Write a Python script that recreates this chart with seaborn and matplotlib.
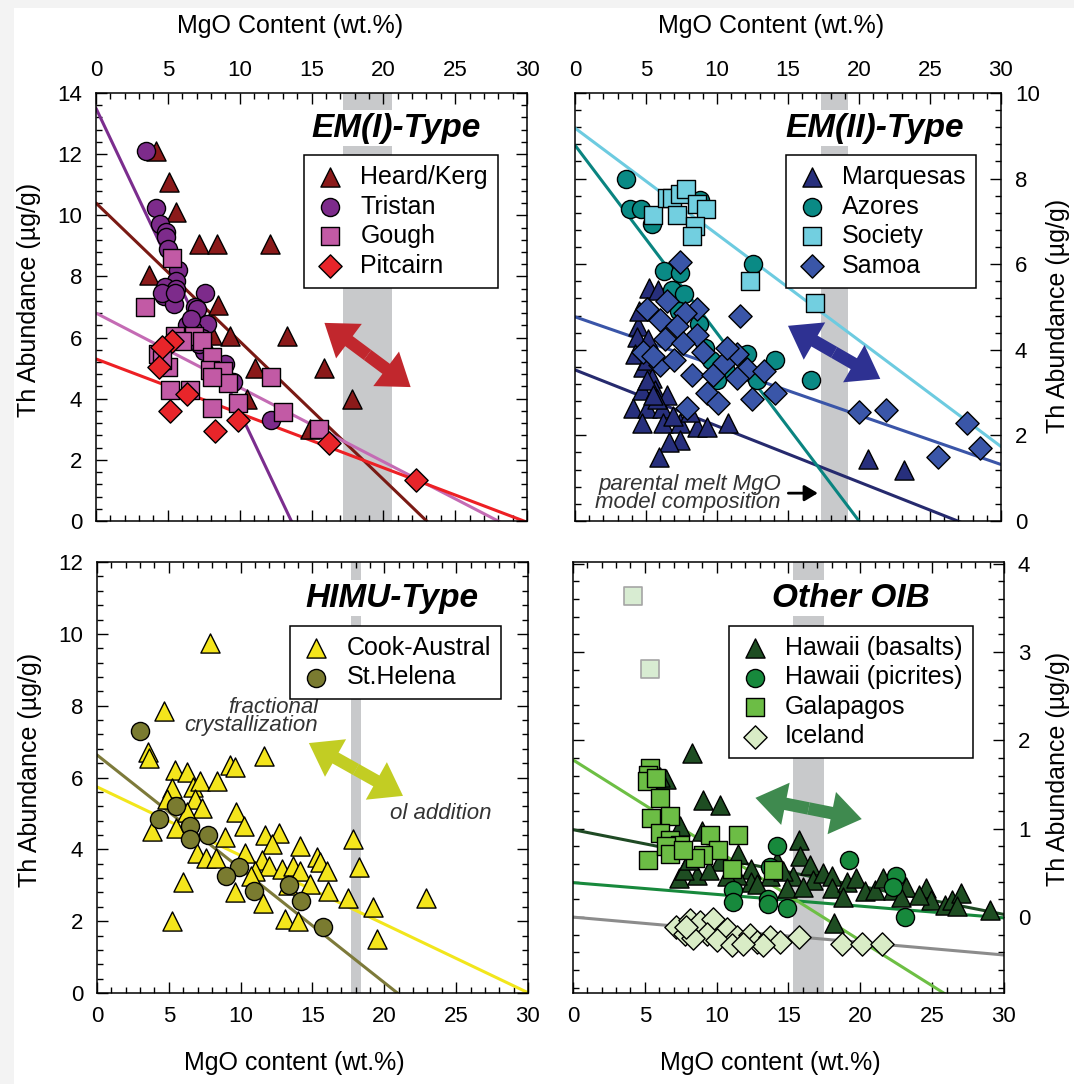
import matplotlib
matplotlib.use("Agg")
import matplotlib.pyplot as plt
from matplotlib.patches import FancyArrowPatch, Rectangle
from matplotlib.ticker import MultipleLocator
import numpy as np
import seaborn as sns

# ---------------- EM(I)-type ----------------
heard_mgo = [4.2, 5.1, 5.6, 7.2, 8.4, 12.1, 3.7, 8.5, 9.3, 13.3, 8.1, 11.1, 15.9, 17.8, 10.5, 14.9]
heard_th = [12.1, 11.1, 10.1, 9.05, 9.05, 9.05, 8.05, 7.05, 6.05, 6.05, 6.1, 5.0, 5.0, 4.0, 4.0, 3.0]
tristan_mgo = [3.5, 4.2, 4.45, 4.9, 4.9, 5.0, 5.7, 5.6, 4.8, 5.6, 7.6, 4.7, 5.4, 6.9, 4.6, 5.5,
               7.0, 6.3, 7.7, 7.5, 9.0, 9.55, 12.2, 7.2, 6.75, 6.6, 7.4]
tristan_th = [12.1, 10.25, 9.7, 9.45, 9.3, 8.9, 8.2, 7.85, 7.65, 7.6, 7.45, 7.35, 7.1, 7.0, 7.45, 7.45,
              6.95, 6.4, 6.45, 5.55, 5.15, 4.55, 3.3, 5.8, 6.25, 6.6, 6.0]
gough_mgo = [5.3, 3.4, 5.5, 6.8, 7.35, 4.3, 5.0, 8.05, 7.9, 8.85, 9.2, 8.1, 5.15, 6.55, 12.2, 8.05,
             9.9, 13.0, 15.5, 4.6, 6.0]
gough_th = [8.6, 7.0, 6.05, 6.05, 5.9, 5.45, 5.05, 5.35, 4.95, 4.9, 4.5, 4.7, 4.3, 4.3, 4.7, 3.7,
            3.85, 3.55, 3.0, 5.25, 5.9]
pitcairn_mgo = [5.3, 4.6, 4.35, 6.3, 5.15, 8.3, 9.9, 16.2, 22.3]
pitcairn_th = [5.9, 5.7, 5.05, 4.15, 3.6, 2.95, 3.3, 2.55, 1.35]
emi_fit_intercept = [10.4, 13.5, 6.8, 5.3]
emi_fit_slope = [-0.452, -0.993, -0.243, -0.178]

# ---------------- EM(II)-type ----------------
marq_mgo = [5.2, 5.85, 4.45, 4.35, 4.25, 4.8, 5.4, 4.7, 5.65, 4.1, 5.05, 6.1, 4.7, 6.2, 7.4, 8.6,
            9.3, 10.8, 7.4, 6.6, 5.9, 6.5, 5.75, 5.05, 6.9, 8.1, 5.15, 5.1, 4.5, 5.5, 20.6, 23.2]
marq_th = [5.45, 5.4, 4.55, 4.3, 3.9, 3.6, 3.35, 3.05, 3.05, 2.65, 2.65, 2.65, 2.3, 2.3, 2.3, 2.2,
           2.2, 2.3, 1.9, 1.85, 1.5, 2.95, 2.85, 3.3, 2.45, 2.55, 4.25, 3.75, 4.9, 2.95, 1.45, 1.2]
azores_mgo = [3.6, 3.85, 4.65, 5.4, 8.8, 12.55, 6.3, 7.4, 6.8, 7.65, 8.7, 9.15, 9.6, 12.1, 14.1,
              10.6, 12.8, 10.0, 16.6, 7.3]
azores_th = [8.0, 7.3, 7.3, 6.95, 7.5, 6.0, 5.85, 5.8, 5.4, 5.3, 4.6, 4.05, 3.75, 3.9, 3.75,
             3.5, 3.3, 3.3, 3.3, 4.9]
society_mgo = [5.5, 6.5, 6.8, 7.4, 7.85, 7.15, 8.6, 9.25, 8.45, 8.25, 12.35, 16.9]
society_th = [7.15, 7.55, 7.55, 7.65, 7.75, 7.15, 7.4, 7.3, 6.9, 6.65, 5.6, 5.1]
samoa_mgo = [7.4, 5.05, 6.5, 8.6, 6.0, 7.75, 7.2, 6.35, 8.6, 4.8, 7.6, 6.0, 6.95, 8.25, 9.75, 10.5,
             11.4, 10.7, 12.1, 13.3, 9.3, 10.1, 12.5, 14.1, 11.6, 7.9, 11.4, 20.0, 21.9, 27.6,
             28.5, 25.6, 5.5, 9.0]
samoa_th = [6.05, 4.95, 5.15, 4.95, 4.7, 4.85, 4.55, 4.25, 4.35, 3.95, 4.15, 3.65, 3.75, 3.4, 3.4, 3.7,
            3.9, 4.05, 3.55, 3.5, 3.0, 2.75, 2.85, 3.0, 4.8, 2.65, 3.35, 2.55, 2.6, 2.3,
            1.7, 1.5, 3.85, 3.95]
emii_fit_intercept = [3.53, 8.78, 9.18, 4.77]
emii_fit_slope = [-0.131, -0.439, -0.248, -0.115]

# ---------------- HIMU-type ----------------
cook_mgo = [7.9, 4.65, 3.55, 3.6, 11.6, 5.45, 6.25, 9.25, 9.6, 5.2, 6.7, 7.15, 8.35, 4.85, 6.8, 7.3,
            9.7, 10.2, 3.85, 5.5, 8.9, 11.7, 12.7, 12.2, 14.1, 6.95, 7.6, 8.3, 10.3, 11.5, 12.0,
            11.0, 12.85, 13.65, 14.1, 15.3, 15.5, 16.0, 14.8, 16.1, 17.5, 19.2, 22.9, 17.8,
            18.25, 19.5, 6.0, 9.6, 11.55, 13.1, 14.0, 5.2, 6.3, 10.7, 13.3]
cook_th = [9.75, 7.85, 6.7, 6.55, 6.6, 6.2, 6.15, 6.35, 6.3, 5.7, 5.75, 5.9, 5.9, 5.4, 5.4, 5.15,
           5.05, 4.65, 4.5, 4.6, 4.35, 4.4, 4.45, 4.15, 4.1, 3.9, 3.75, 3.75, 3.9, 3.7, 3.55,
           3.4, 3.45, 3.55, 3.4, 3.8, 3.65, 3.4, 3.05, 2.85, 2.65, 2.4, 2.65, 4.3,
           3.5, 1.5, 3.1, 2.8, 2.5, 2.05, 2.0, 2.0, 5.05, 3.25, 3.0]
helena_mgo = [3.0, 5.5, 4.35, 6.45, 6.45, 7.75, 9.9, 9.0, 10.9, 13.4, 14.2, 15.75]
helena_th = [7.3, 5.2, 4.85, 4.65, 4.3, 4.4, 3.5, 3.25, 2.85, 3.0, 2.55, 1.85]
himu_fit_intercept = [5.74, 6.63]
himu_fit_slope = [-0.191, -0.317]

# ---------------- Other OIB ----------------
hibas_mgo = [8.25, 6.5, 9.05, 10.25, 8.95, 7.45, 11.5, 15.7, 7.35, 8.6, 10.25, 12.4, 12.4, 13.7,
             15.8, 16.5, 15.3, 16.7, 17.4, 18.0, 18.0, 19.05, 19.7, 20.3, 21.0, 21.6, 22.3,
             23.2, 24.6, 24.95, 25.9, 26.35, 27.0, 26.7, 29.0, 18.2, 6.05, 11.4, 12.8, 14.2,
             14.6, 7.7, 8.1, 9.5, 10.7, 14.9, 16.0, 18.8, 22.8, 24.1]
hibas_th = [1.86, 1.56, 1.33, 1.27, 0.97, 1.03, 0.72, 0.875, 0.44, 0.48, 0.63, 0.55, 0.4, 0.46,
            0.69, 0.59, 0.46, 0.42, 0.5, 0.46, 0.33, 0.4, 0.44, 0.29, 0.31, 0.44, 0.31,
            0.34, 0.33, 0.19, 0.14, 0.19, 0.27, 0.12, 0.08, -0.07, 1.59, 0.48, 0.38, 0.63,
            0.52, 0.53, 0.65, 0.53, 0.46, 0.33, 0.34, 0.23, 0.23, 0.25]
hipic_mgo = [14.2, 19.2, 11.15, 11.15, 13.6, 13.6, 14.9, 22.5, 22.3, 23.1, 13.7]
hipic_th = [0.8, 0.65, 0.31, 0.17, 0.21, 0.15, 0.1, 0.46, 0.34, 0.0, 0.57]
galap_mgo = [5.35, 5.25, 5.15, 5.8, 6.05, 5.45, 6.75, 6.05, 6.75, 7.45, 5.25, 9.55, 10.1, 11.5,
             9.05, 8.5, 11.05, 13.95, 6.5, 6.75, 7.65]
galap_th = [1.69, 1.61, 1.54, 1.58, 1.35, 1.12, 1.14, 0.95, 0.875, 0.82, 0.65, 0.93, 0.76, 0.93,
            0.7, 0.67, 0.55, 0.53, 0.8, 0.72, 0.76]
galap_out_mgo = [4.2, 5.35]
galap_out_th = [3.64, 2.81]
iceland_mgo = [7.2, 7.8, 8.15, 8.85, 9.75, 9.3, 8.35, 10.7, 11.4, 12.3, 12.8, 13.7, 14.4, 15.7,
               18.7, 20.1, 21.5, 10.0, 7.9, 11.1, 13.2, 11.8]
iceland_th = [-0.11, -0.19, -0.03, -0.05, -0.02, -0.19, -0.24, -0.13, -0.22, -0.2, -0.28, -0.22,
              -0.28, -0.22, -0.3, -0.3, -0.3, -0.26, -0.11, -0.32, -0.32, -0.3]
oib_fit_intercept = [0.99, 0.39, 1.78, 0.0]
oib_fit_slope = [-0.032, -0.0133, -0.1023, -0.0143]

sns.set_style("ticks")
plt.rcParams["font.family"] = ["Liberation Sans", "DejaVu Sans"]
plt.rcParams["axes.linewidth"] = 1.1
for key in ("text.color", "axes.labelcolor", "xtick.color", "ytick.color", "axes.edgecolor"):
    plt.rcParams[key] = "black"

fig = plt.figure(figsize=(10.74, 10.84), dpi=100)
# faint screenshot shadow along the left and top edges
fig.patches.append(Rectangle((0, 0), 0.013, 1, transform=fig.transFigure, color="#f3f3f3", lw=0))
fig.patches.append(Rectangle((0, 0.993), 1, 0.007, transform=fig.transFigure, color="#f3f3f3", lw=0))

ax_tl = fig.add_axes([0.0894, 0.5194, 0.4013, 0.3948])
ax_tr = fig.add_axes([0.5354, 0.5194, 0.3966, 0.3948])
ax_bl = fig.add_axes([0.0903, 0.0839, 0.4013, 0.3976])
ax_br = fig.add_axes([0.5335, 0.0839, 0.4013, 0.3976])

BAND = "#c8c9cb"
NOTE = "#333333"


def scatter(ax, x, y, marker, color, label, size, edge="black"):
    sns.scatterplot(x=x, y=y, marker=marker, color=color, s=size, edgecolor=edge,
                    linewidth=1.0, label=label, ax=ax, zorder=3, legend=True)


def fits(ax, intercepts, slopes, colors):
    xs = np.array([0.0, 30.0])
    for a, b, c in zip(intercepts, slopes, colors):
        sns.lineplot(x=xs, y=a + b * xs, color=c, lw=2.2, ax=ax, zorder=2, legend=False)


def dbl_arrow(ax, p1, p2, color):
    mid = ((p1[0] + p2[0]) / 2, (p1[1] + p2[1]) / 2)
    style = "simple,head_length=1.1,head_width=1.55,tail_width=0.45"
    for end in (p1, p2):
        ax.add_patch(FancyArrowPatch(mid, end, arrowstyle=style, mutation_scale=20,
                                     color=color, lw=0, zorder=4, shrinkA=0, shrinkB=0))


def style_axes(ax, ylim, ymaj, ymin, top, right, xlab_x, ylab):
    ax.set_xlim(0, 30)
    ax.set_ylim(*ylim)
    ax.xaxis.set_major_locator(MultipleLocator(5))
    ax.xaxis.set_minor_locator(MultipleLocator(1))
    ax.yaxis.set_major_locator(MultipleLocator(ymaj))
    ax.yaxis.set_minor_locator(MultipleLocator(ymin))
    ax.tick_params(which="both", direction="in", top=True, bottom=True, left=True, right=True,
                   labeltop=top, labelbottom=not top, labelleft=not right, labelright=right,
                   labelsize=16, width=1.0)
    ax.tick_params(axis="x", pad=9)
    ax.tick_params(axis="y", pad=10)
    ax.tick_params(which="major", length=8)
    ax.tick_params(which="minor", length=4.5)
    if top:
        ax.xaxis.set_label_position("top")
        ax.set_xlabel("MgO Content (wt.%)", fontsize=18)
        ax.xaxis.set_label_coords(xlab_x, 1.140)
    else:
        ax.set_xlabel("MgO content (wt.%)", fontsize=18)
        ax.xaxis.set_label_coords(xlab_x, -0.135)
    ax.set_ylabel("Th Abundance (µg/g)", fontsize=18)
    if right:
        ax.yaxis.set_label_position("right")
    ax.yaxis.set_label_coords(*ylab)


def title(ax, text, x, y):
    ax.text(x, y, text, transform=ax.transAxes, ha="left", va="center", fontsize=24,
            fontweight="bold", style="italic", zorder=6,
            bbox=dict(facecolor="white", edgecolor="none", pad=2))


def legend(ax, x, y):
    leg = ax.legend(loc="upper left", bbox_to_anchor=(x, y), fontsize=18, frameon=True,
                    fancybox=False, framealpha=1, edgecolor="black", labelspacing=0.22,
                    handletextpad=0.55, borderpad=0.4, handlelength=1.3, borderaxespad=0)
    leg.get_frame().set_linewidth(1.1)
    leg.set_zorder(7)


# EM(I)
ax = ax_tl
ax.axvspan(17.2, 20.6, color=BAND, lw=0, zorder=0)
fits(ax, emi_fit_intercept, emi_fit_slope, ["#7a1a14", "#7b2d8e", "#c46bb4", "#ed2024"])
scatter(ax, heard_mgo, heard_th, "^", "#8b1a1a", "Heard/Kerg", 190)
scatter(ax, tristan_mgo, tristan_th, "o", "#7d2b8b", "Tristan", 170)
scatter(ax, gough_mgo, gough_th, "s", "#c25aa5", "Gough", 150)
scatter(ax, pitcairn_mgo, pitcairn_th, "D", "#e8252a", "Pitcairn", 140)
dbl_arrow(ax, (15.9, 6.48), (21.9, 4.38), "#c1272d")
style_axes(ax, (0, 14), 2, 0.4, top=True, right=False, xlab_x=0.45, ylab=(-0.128, 0.516))
title(ax, "EM(I)-Type", 0.50, 0.918)
legend(ax, 0.483, 0.855)

# EM(II)
ax = ax_tr
ax.axvspan(17.35, 19.2, color=BAND, lw=0, zorder=0)
fits(ax, emii_fit_intercept, emii_fit_slope, ["#262a6e", "#0a8480", "#6dcbe0", "#3a55a8"])
scatter(ax, marq_mgo, marq_th, "^", "#272f7c", "Marquesas", 190)
scatter(ax, azores_mgo, azores_th, "o", "#0a8a85", "Azores", 170)
scatter(ax, society_mgo, society_th, "s", "#72cfe0", "Society", 150)
scatter(ax, samoa_mgo, samoa_th, "D", "#3a56a8", "Samoa", 140)
dbl_arrow(ax, (15.0, 4.56), (21.5, 3.32), "#2e3192")
ax.annotate("parental melt MgO\nmodel composition", xy=(17.1, 0.65), xytext=(14.5, 0.65),
            ha="right", va="center", fontsize=16, style="italic", color=NOTE,
            linespacing=0.82,
            arrowprops=dict(arrowstyle="-|>,head_length=0.5,head_width=0.3", color="black",
                            lw=2, shrinkA=3, shrinkB=0))
style_axes(ax, (0, 10), 2, 0.4, top=True, right=True, xlab_x=0.46, ylab=(1.106, 0.48))
title(ax, "EM(II)-Type", 0.495, 0.918)
legend(ax, 0.495, 0.855)

# HIMU
ax = ax_bl
ax.axvspan(17.7, 18.4, color=BAND, lw=0, zorder=0)
fits(ax, himu_fit_intercept, himu_fit_slope, ["#f2e61c", "#7d7a3a"])
scatter(ax, cook_mgo, cook_th, "^", "#f4e51c", "Cook-Austral", 190)
scatter(ax, helena_mgo, helena_th, "o", "#7a7b30", "St.Helena", 170)
dbl_arrow(ax, (14.75, 6.96), (21.3, 5.49), "#c2cd23")
ax.text(15.4, 7.69, "fractional\ncrystallization", ha="right", va="center", fontsize=16,
        style="italic", color=NOTE, linespacing=0.82)
ax.text(20.4, 5.01, "ol addition", ha="left", va="center", fontsize=16, style="italic",
        color=NOTE)
style_axes(ax, (0, 12), 2, 0.4, top=False, right=False, xlab_x=0.457, ylab=(-0.128, 0.517))
title(ax, "HIMU-Type", 0.483, 0.916)
legend(ax, 0.448, 0.852)

# Other OIB
ax = ax_br
ax.axvspan(15.3, 17.5, color=BAND, lw=0, zorder=0)
fits(ax, oib_fit_intercept, oib_fit_slope, ["#1f4a24", "#17893c", "#6dbf44", "#8c8c8c"])
scatter(ax, hibas_mgo, hibas_th, "^", "#1e4d22", "Hawaii (basalts)", 190)
scatter(ax, hipic_mgo, hipic_th, "o", "#17893c", "Hawaii (picrites)", 170)
scatter(ax, galap_mgo, galap_th, "s", "#6cbd45", "Galapagos", 150)
scatter(ax, iceland_mgo, iceland_th, "D", "#d9ecc6", "Iceland", 140)
sns.scatterplot(x=galap_out_mgo, y=galap_out_th, marker="s", color="#d8ecd2", s=150,
                edgecolor="#a5a5a5", linewidth=1.2, ax=ax, zorder=3, legend=False)
dbl_arrow(ax, (12.7, 1.35), (20.1, 1.11), "#3f8a4f")
style_axes(ax, (-0.86, 4.02), 1, 0.2, top=False, right=True, xlab_x=0.459, ylab=(1.097, 0.52))
title(ax, "Other OIB", 0.462, 0.916)
legend(ax, 0.362, 0.852)

fig.savefig("out.png", dpi=100)
